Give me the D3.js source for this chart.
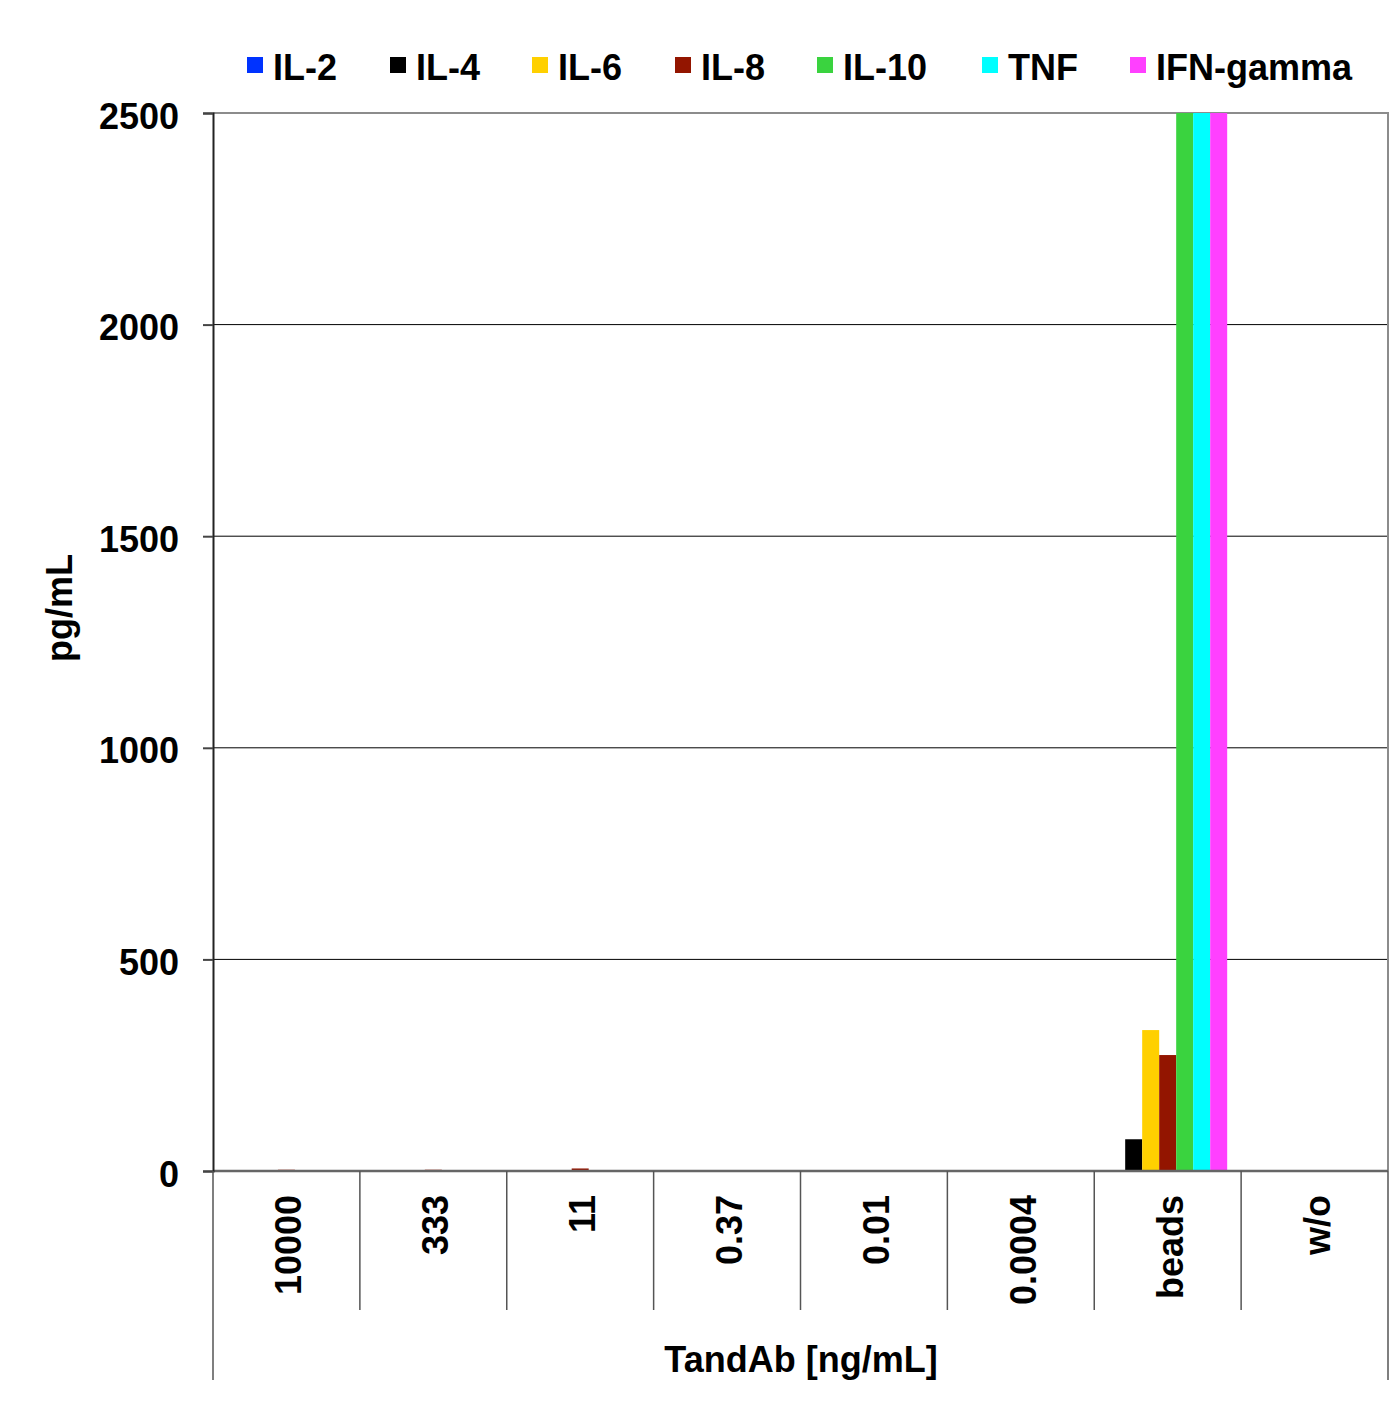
<!DOCTYPE html>
<html>
<head>
<meta charset="utf-8">
<script src="https://cdn.jsdelivr.net/npm/d3@7"></script>
<style>
  body { margin: 0; background: white; }
  text { font-family: "Liberation Sans", Arial, sans-serif; font-weight: bold; }
</style>
</head>
<body>
<svg></svg>
<script>
const w = 1396;
const h = 1415;

const categories = ["10000", "333", "11", "0.37", "0.01", "0.0004", "beads", "w/o"];
const seriesNames = ["IL-2", "IL-4", "IL-6", "IL-8", "IL-10", "TNF", "IFN-gamma"];
const colors = ["#0033ff", "#000000", "#ffd000", "#931500", "#3ad33f", "#00ffff", "#ff40ff"];

// one array per series, one value per category
const il2  = [0, 0, 0, 0, 0, 0, 0, 0];
const il4  = [0, 0, 0, 0, 0, 0, 75, 0];
const il6  = [0, 0, 0, 0, 0, 0, 333, 0];
const il8  = [3, 3, 6, 1, 1, 1, 274, 1];
const il10 = [0, 0, 2, 0, 0, 0, 2900, 1];
const tnf  = [0, 0, 0, 0, 0, 0, 2900, 0];
const ifng = [2, 2, 2, 1, 0, 0, 2900, 1];
const seriesValues = [il2, il4, il6, il8, il10, tnf, ifng];

const yTicks = [0, 500, 1000, 1500, 2000, 2500];

const m = {left: 213, right: 1388, top: 113, bottom: 1171};

const svg = d3.select("svg")
    .attr("width", w)
    .attr("height", h)
    .attr("viewBox", [0, 0, w, h]);

svg.append("rect").attr("width", w).attr("height", h).attr("fill", "white");

const x = d3.scaleBand().domain(categories).range([m.left, m.right]);
const xs = d3.scaleBand().domain(seriesNames)
    .range([0, x.bandwidth()]).paddingOuter(0.82).paddingInner(0);
const y = d3.scaleLinear().domain([0, 2500]).range([m.bottom, m.top]);

// gridlines
svg.append("g")
    .selectAll("line")
    .data(yTicks.filter(d => d > 0 && d < 2500))
    .join("line")
    .attr("x1", m.left).attr("x2", m.right)
    .attr("y1", d => y(d)).attr("y2", d => y(d))
    .attr("stroke", "#000").attr("stroke-width", 1);

// plot border top/right
svg.append("path")
    .attr("d", `M${m.left},${m.top}H${m.right}V${m.bottom}`)
    .attr("fill", "none").attr("stroke", "#8c8c8c").attr("stroke-width", 2);

svg.append("clipPath").attr("id", "clip")
    .append("rect")
    .attr("x", m.left).attr("y", m.top)
    .attr("width", m.right - m.left).attr("height", m.bottom - m.top);

const bars = [];
seriesNames.forEach((s, i) => {
    categories.forEach((c, j) => {
        bars.push({series: s, cat: c, value: seriesValues[i][j], color: colors[i]});
    });
});

svg.append("g").attr("clip-path", "url(#clip)")
    .selectAll("rect")
    .data(bars.filter(d => d.value > 0))
    .join("rect")
    .attr("x", d => x(d.cat) + xs(d.series))
    .attr("width", xs.bandwidth())
    .attr("y", d => y(d.value))
    .attr("height", d => y(0) - y(d.value))
    .attr("fill", d => d.color);

// x axis line
svg.append("line")
    .attr("x1", m.left).attr("x2", m.right)
    .attr("y1", m.bottom).attr("y2", m.bottom)
    .attr("stroke", "#666").attr("stroke-width", 2.5);

// y axis
const yAxis = svg.append("g")
    .attr("transform", `translate(${m.left},0)`)
    .call(d3.axisLeft(y).tickValues(yTicks).tickSize(10).tickPadding(24).tickFormat(d3.format("d")));
yAxis.select(".domain").attr("stroke", "#222").attr("stroke-width", 2);
yAxis.selectAll(".tick line").attr("stroke", "#444").attr("stroke-width", 2);
yAxis.selectAll(".tick text")
    .attr("font-size", 36)
    .attr("font-family", "Liberation Sans, Arial, sans-serif")
    .attr("font-weight", "bold")
    .attr("fill", "#000")
    .attr("dy", "0.42em");

// category separators below axis
const seps = d3.range(categories.length + 1).map(i => m.left + i * x.step());
svg.append("g")
    .selectAll("line")
    .data(seps)
    .join("line")
    .attr("x1", d => d).attr("x2", d => d)
    .attr("y1", m.bottom)
    .attr("y2", (d, i) => (i === 0 || i === categories.length) ? 1380 : 1310)
    .attr("stroke", "#555").attr("stroke-width", 1.5);

// category labels
svg.append("g")
    .selectAll("text")
    .data(categories)
    .join("text")
    .attr("transform", d => `translate(${x(d) + x.bandwidth() / 2 + 15},1195) rotate(-90)`)
    .attr("text-anchor", "end")
    .attr("font-size", 36)
    .text(d => d);

// axis titles
svg.append("text")
    .attr("x", 801).attr("y", 1372)
    .attr("text-anchor", "middle")
    .attr("font-size", 36)
    .text("TandAb [ng/mL]");

svg.append("text")
    .attr("transform", "translate(72,608) rotate(-90)")
    .attr("text-anchor", "middle")
    .attr("font-size", 36)
    .text("pg/mL");

// legend
const legendX = [247, 390, 532, 675, 817, 982, 1130];
const legend = svg.append("g")
    .selectAll("g")
    .data(seriesNames)
    .join("g")
    .attr("transform", (d, i) => `translate(${legendX[i]},57)`);
legend.append("rect")
    .attr("width", 16).attr("height", 16)
    .attr("fill", (d, i) => colors[i]);
legend.append("text")
    .attr("x", 26).attr("y", 23)
    .attr("font-size", 36)
    .text(d => d);
</script>
</body>
</html>
